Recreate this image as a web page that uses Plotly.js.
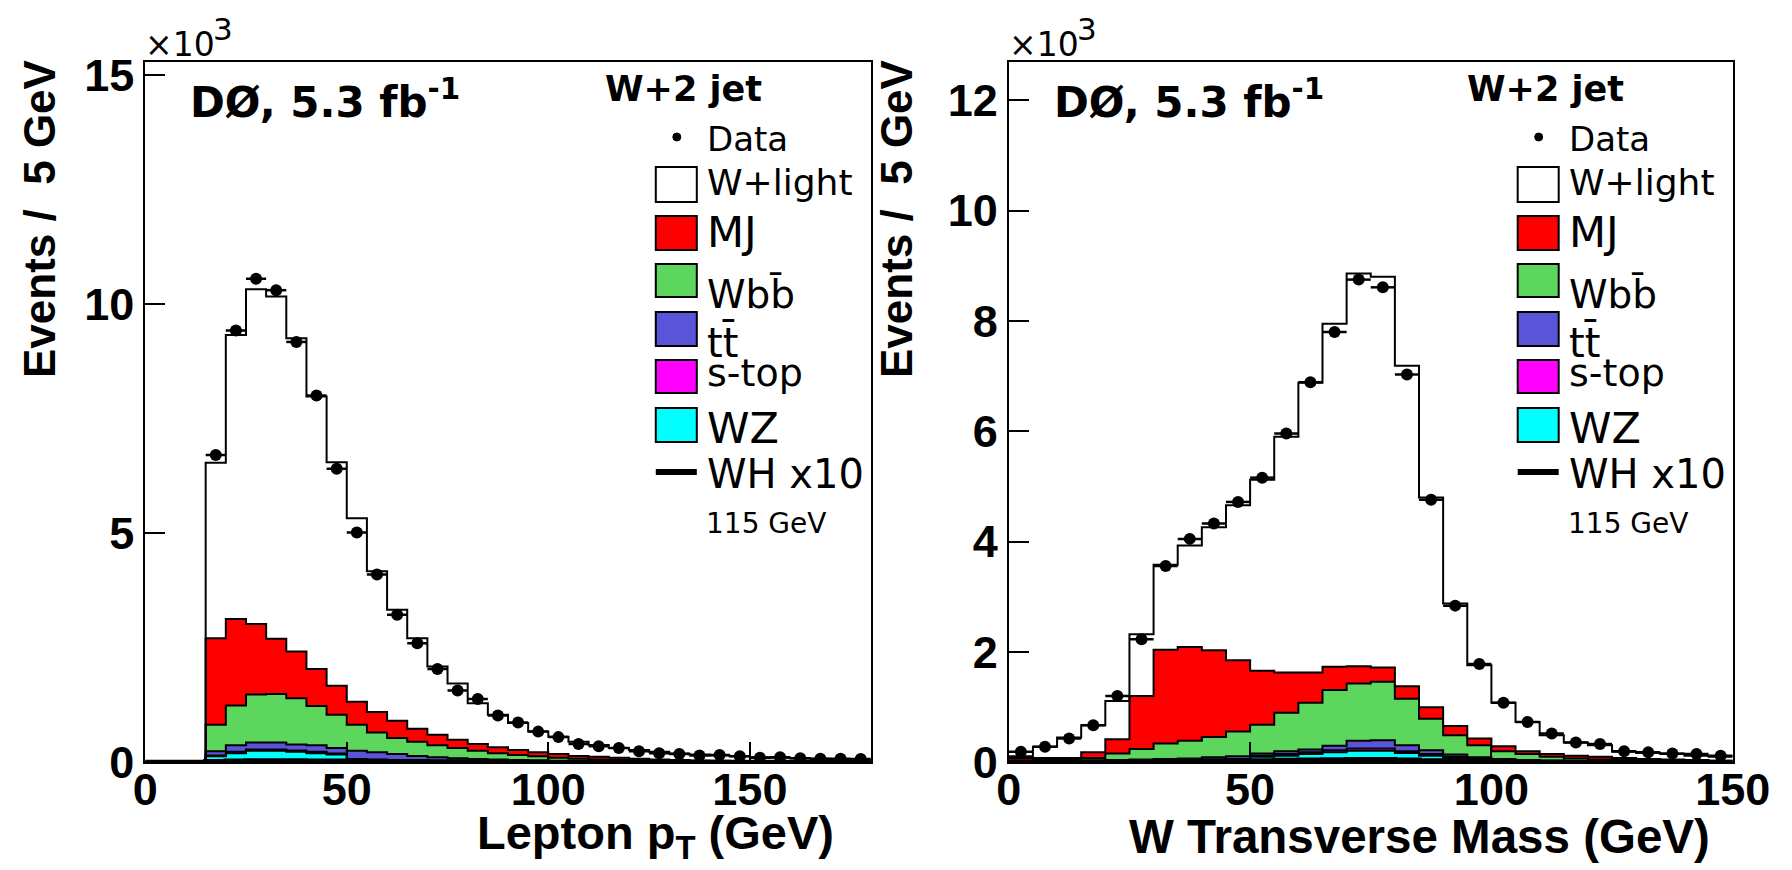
<!DOCTYPE html>
<html>
<head>
<meta charset="utf-8">
<script src="https://cdn.plot.ly/plotly-3.0.1.min.js"></script>
<style>
  html, body { margin: 0; padding: 0; background: #ffffff; }
  #chart { width: 1792px; height: 870px; }
</style>
</head>
<body>
<div id="chart"></div>
<script>
// ---------------- Data (values in units of 10^3 events / 5 GeV) ----------------
// Left panel: Lepton pT, bins of 5 GeV (lower edges)
const ptBins = [0,5,10,15,20,25,30,35,40,45,50,55,60,65,70,75,80,85,90,95,100,105,110,115,120,125,130,135,140,145,150,155,160,165,170,175];
const ptData = [null,null,null,6.71,9.43,10.56,10.31,9.18,8.01,6.41,5.02,4.10,3.22,2.60,2.04,1.57,1.38,1.02,0.87,0.67,0.55,0.40,0.35,0.31,0.24,0.20,0.18,0.15,0.16,0.13,0.10,0.11,0.09,0.08,0.08,0.07];
const ptWZ     = [0,0,0,0.13,0.20,0.25,0.25,0.23,0.20,0.17,0.05,0.04,0.03,0.03,0.02,0.02,0.01,0.01,0.01,0.01,0.005,0.005,0.004,0.003,0.003,0.002,0.002,0.001,0.001,0.001,0.001,0.001,0,0,0,0];
const ptSTop   = [0,0,0,0.02,0.03,0.03,0.03,0.03,0.03,0.02,0.02,0.02,0.02,0.01,0.01,0.01,0.01,0.01,0.005,0.005,0.005,0.003,0.002,0.002,0.002,0.001,0.001,0.001,0.001,0.001,0,0,0,0,0,0];
const ptTT     = [0,0,0,0.09,0.14,0.15,0.15,0.13,0.14,0.12,0.18,0.16,0.13,0.10,0.08,0.06,0.05,0.04,0.035,0.025,0.02,0.02,0.014,0.015,0.01,0.007,0.007,0.005,0.004,0.003,0.003,0.002,0.002,0.001,0.001,0.001];
const ptWbb    = [0,0,0,0.58,0.87,1.05,1.06,1.01,0.86,0.73,0.57,0.43,0.35,0.31,0.26,0.22,0.18,0.14,0.11,0.09,0.07,0.05,0.04,0.03,0.025,0.02,0.015,0.013,0.01,0.007,0.006,0.005,0.004,0.003,0.003,0.002];
const ptMJ     = [0,0,0,1.89,1.89,1.54,1.21,1.02,0.81,0.63,0.50,0.45,0.38,0.28,0.23,0.18,0.15,0.13,0.11,0.09,0.08,0.06,0.06,0.05,0.04,0.03,0.025,0.02,0.02,0.018,0.015,0.012,0.01,0.009,0.008,0.007];
const ptWlight = [0,0,0,3.83,6.20,7.31,7.47,6.84,5.95,4.88,4.01,3.07,2.42,1.98,1.49,1.23,0.89,0.71,0.59,0.45,0.38,0.31,0.26,0.21,0.19,0.17,0.14,0.13,0.115,0.10,0.085,0.08,0.074,0.067,0.058,0.05];
const ptWH     = [0,0,0,0.02,0.03,0.035,0.035,0.035,0.03,0.03,0.025,0.02,0.02,0.015,0.012,0.01,0.008,0.006,0.005,0.004,0.003,0.003,0.002,0.002,0.001,0.001,0.001,0.001,0,0,0,0,0,0,0,0];

// Right panel: W transverse mass, bins of 5 GeV (lower edges)
const mtBins = [0,5,10,15,20,25,30,35,40,45,50,55,60,65,70,75,80,85,90,95,100,105,110,115,120,125,130,135,140,145];
const mtData = [0.19,0.28,0.43,0.67,1.20,2.23,3.56,4.05,4.33,4.72,5.16,5.96,6.89,7.80,8.75,8.61,7.03,4.76,2.84,1.78,1.08,0.73,0.52,0.36,0.33,0.20,0.18,0.16,0.15,0.12];
const mtWZ     = [0.005,0.005,0.005,0.01,0.015,0.02,0.025,0.03,0.035,0.04,0.10,0.12,0.15,0.18,0.21,0.21,0.17,0.12,0.08,0.05,0.03,0.02,0.015,0.01,0.01,0.007,0.005,0.004,0.003,0.002];
const mtSTop   = [0.005,0.005,0.005,0.005,0.01,0.01,0.01,0.01,0.015,0.02,0.02,0.03,0.03,0.04,0.04,0.04,0.03,0.03,0.02,0.01,0.01,0.01,0.005,0.005,0.005,0.003,0.002,0.002,0.001,0.001];
const mtTT     = [0.01,0.01,0.01,0.015,0.015,0.02,0.025,0.03,0.04,0.05,0.04,0.05,0.05,0.08,0.14,0.15,0.11,0.07,0.04,0.03,0.02,0.01,0.01,0.005,0.005,0.005,0.003,0.004,0.003,0.002];
const mtWbb    = [0.01,0.02,0.03,0.05,0.12,0.19,0.28,0.32,0.37,0.45,0.52,0.70,0.85,1.01,1.04,1.06,0.84,0.57,0.35,0.22,0.14,0.11,0.07,0.05,0.03,0.025,0.02,0.015,0.013,0.01];
const mtMJ     = [0.05,0.04,0.03,0.10,0.26,0.96,1.70,1.70,1.57,1.29,0.98,0.73,0.55,0.42,0.31,0.26,0.23,0.21,0.17,0.12,0.09,0.05,0.05,0.05,0.05,0.04,0.03,0.025,0.02,0.015];
const mtWlight = [0.03,0.20,0.37,0.49,0.69,1.12,1.54,1.84,2.23,2.81,3.46,4.27,5.25,6.22,7.12,7.08,5.81,3.80,2.22,1.33,0.79,0.53,0.34,0.24,0.21,0.11,0.11,0.10,0.08,0.07];
const mtWH     = [0.005,0.005,0.005,0.008,0.01,0.012,0.015,0.018,0.02,0.025,0.03,0.035,0.04,0.045,0.05,0.05,0.04,0.03,0.02,0.012,0.008,0.005,0.004,0.003,0.002,0.001,0.001,0.001,0,0];

const binWidth = 5;
const seriesNames  = ['WZ','s-top','tt\u0304','Wbb\u0304','MJ','W+light'];
const seriesColors = ['#00ffff','#ff00ff','#5a55d8','#5cd65c','#ff0000','#ffffff'];
const legendLabels = ['W+light','MJ','Wbb\u0304','tt\u0304','s-top','WZ'];
const legendColors = ['#ffffff','#ff0000','#5cd65c','#5a55d8','#ff00ff','#00ffff'];

// ---------------- Trace builders ----------------
function stepXY(bins, vals) {
  const x = bins.concat([bins[bins.length - 1] + binWidth]);
  const y = vals.concat([vals[vals.length - 1]]);
  return {x, y};
}

function buildPanel(bins, comps, data, wh, xa, ya) {
  const traces = [];
  let cum = bins.map(() => 0);
  comps.forEach((c, i) => {
    cum = cum.map((v, k) => v + c[k]);
    const s = stepXY(bins, cum.slice());
    traces.push({
      type: 'scatter', mode: 'lines', x: s.x, y: s.y,
      xaxis: xa, yaxis: ya, name: seriesNames[i],
      line: {shape: 'hv', color: '#000000', width: 2},
      fill: i === 0 ? 'tozeroy' : 'tonexty',
      fillcolor: seriesColors[i], hoverinfo: 'skip'
    });
  });
  const w = stepXY(bins, wh);
  traces.push({
    type: 'scatter', mode: 'lines', x: w.x, y: w.y, xaxis: xa, yaxis: ya,
    name: 'WH x10', line: {shape: 'hv', color: '#000000', width: 5}, hoverinfo: 'skip'
  });
  traces.push({
    type: 'scatter', mode: 'markers', xaxis: xa, yaxis: ya, name: 'Data',
    x: bins.map(b => b + binWidth / 2), y: data,
    marker: {color: '#000000', size: 12},
    error_x: {type: 'constant', value: binWidth / 2, width: 0, thickness: 2.5, color: '#000000'},
    hoverinfo: 'skip'
  });
  return traces;
}

const traces = []
  .concat(buildPanel(ptBins, [ptWZ, ptSTop, ptTT, ptWbb, ptMJ, ptWlight], ptData, ptWH, 'x', 'y'))
  .concat(buildPanel(mtBins, [mtWZ, mtSTop, mtTT, mtWbb, mtMJ, mtWlight], mtData, mtWH, 'x2', 'y2'));

// ---------------- Layout helpers (pixel -> paper) ----------------
const W = 1792, H = 870;
const PX = p => p / W;
const PY = p => 1 - p / H;

const tickFont = {family: 'Liberation Sans, Arial, sans-serif', size: 45, color: '#000000', weight: 'bold'};
function axisX(domain, range, anchor) {
  return {domain, range, anchor, showline: true, linecolor: '#000000', linewidth: 2, mirror: true,
    ticks: 'inside', ticklen: 20, tickwidth: 2, tickcolor: '#000000', tickvals: [0, 50, 100, 150],
    ticklabelstandoff: -13,
    tickfont: tickFont, showgrid: false, zeroline: false, fixedrange: true, automargin: false};
}
function axisY(domain, range, anchor, dtick) {
  return {domain, range, anchor, showline: true, linecolor: '#000000', linewidth: 2, mirror: true,
    ticks: 'inside', ticklen: 20, tickwidth: 2, tickcolor: '#000000', dtick: dtick, tick0: 0,
    tickfont: tickFont, showgrid: false, zeroline: false, fixedrange: true, automargin: false};
}

const frames = [
  {left: 145.2, right: 870.8, xtitle: 'Lepton p<sub>T</sub> (GeV)', xtitleRight: 836, ytitleX: 40, xsize: 47},
  {left: 1008.8, right: 1732.7, xtitle: 'W Transverse Mass (GeV)', xtitleRight: 1712, ytitleX: 897, xsize: 47.5}
];

const annotations = [];
const shapes = [];
const dejavu = 'DejaVu Sans, sans-serif';
function txt(text, x, y, size, opts) {
  opts = opts || {};
  annotations.push(Object.assign({
    text, x: PX(x), y: PY(y), xref: 'paper', yref: 'paper', showarrow: false,
    xanchor: 'left', yanchor: 'middle',
    font: {family: opts.family || dejavu, size, color: '#000000', weight: opts.weight || 'normal'}
  }, opts.extra || {}));
}

frames.forEach(f => {
  // x10^3
  txt('\u00d710', f.left - 2, 44, 33);
  txt('3', f.left + 66, 29, 31);
  // DØ label
  txt('D\u00d8, 5.3 fb<sup>-1</sup>', f.left + 43, 100, 42, {weight: 'bold'});
  // axis titles
  txt(f.xtitle, f.xtitleRight, 836, f.xsize, {family: 'Liberation Sans, Arial, sans-serif', weight: 'bold', extra: {xanchor: 'right'}});
  txt('Events /\u00a0 5 GeV', f.ytitleX, 219, 44, {family: 'Liberation Sans, Arial, sans-serif', weight: 'bold', extra: {xanchor: 'center', textangle: -90}});
  // legend
  const R = f.right;
  txt('W+2 jet', R - 268, 89, 35, {weight: 'bold'});
  shapes.push({type: 'circle', xref: 'paper', yref: 'paper',
    x0: PX(R - 198), x1: PX(R - 190), y0: PY(133), y1: PY(141),
    fillcolor: '#000000', line: {color: '#000000', width: 1}});
  txt('Data', R - 166, 139, 34);
  const rows = [[167, 202], [216, 250], [264, 297], [312, 346], [360, 393], [408, 442]];
  const textY = [182, 232.5, 294, 342, 373, 427.5];
  const textSize = [36, 43, 39, 40, 38, 43];
  rows.forEach((r, i) => {
    shapes.push({type: 'rect', xref: 'paper', yref: 'paper',
      x0: PX(R - 215), x1: PX(R - 174), y0: PY(r[1]), y1: PY(r[0]),
      fillcolor: legendColors[i], line: {color: '#000000', width: 2}});
    txt(legendLabels[i], R - 166, textY[i], textSize[i]);
  });
  shapes.push({type: 'line', xref: 'paper', yref: 'paper',
    x0: PX(R - 215), x1: PX(R - 174), y0: PY(472), y1: PY(472),
    line: {color: '#000000', width: 6}});
  txt('WH x10', R - 166, 473.5, 40);
  txt('115 GeV', R - 167, 523, 28);
});

const layout = {
  width: W, height: H,
  margin: {l: 0, r: 0, t: 0, b: 0, pad: 0},
  paper_bgcolor: '#ffffff', plot_bgcolor: '#ffffff',
  showlegend: false, hovermode: false,
  xaxis: axisX([PX(145.2), PX(870.8)], [0, 180], 'y'),
  yaxis: axisY([PY(762.3), PY(61.7)], [0, 15.3], 'x', 5),
  xaxis2: axisX([PX(1008.8), PX(1732.7)], [0, 150], 'y2'),
  yaxis2: axisY([PY(762.3), PY(61.7)], [0, 12.7], 'x2', 2),
  annotations, shapes
};

Plotly.newPlot('chart', traces, layout, {staticPlot: true, displayModeBar: false});
</script>
</body>
</html>
